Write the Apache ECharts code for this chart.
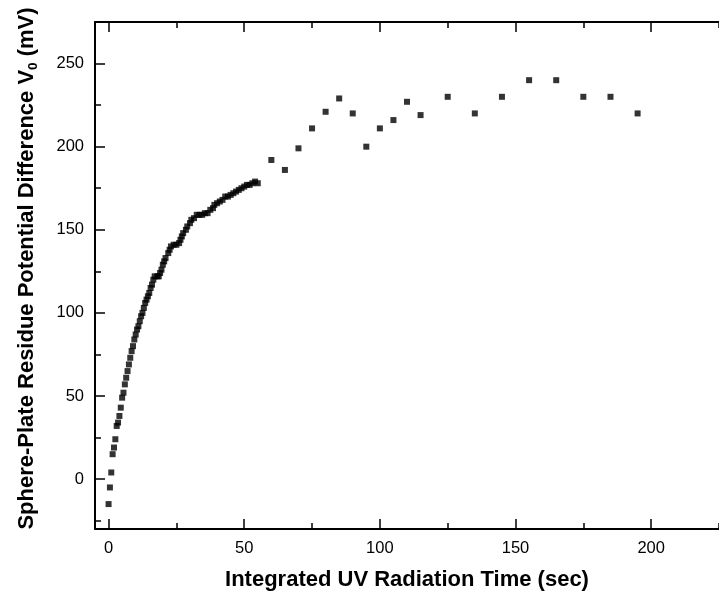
<!DOCTYPE html>
<html><head><meta charset="utf-8">
<script src="https://cdn.jsdelivr.net/npm/echarts@6/dist/echarts.min.js"></script>
<style>html,body{margin:0;padding:0;background:#fff}#c{width:719px;height:604px}</style>
</head><body><div id="c"></div>
<script>
// Integrated UV radiation time (sec)
const timeSec = [
  0, 0.5, 1, 1.5, 2, 2.5, 3, 3.5, 4, 4.5, 5, 5.5, 6, 6.5, 7, 7.5, 8, 8.5, 9, 9.5,
  10, 10.5, 11, 11.5, 12, 12.5, 13, 13.5, 14, 14.5, 15, 15.5, 16, 16.5, 17, 18, 18.5, 19, 19.5, 20,
  20.5, 21, 22, 22.5, 23, 24, 25, 26, 26.5, 27, 27.5, 28.5, 29, 30, 30.5, 31.5, 32.5, 33.5, 34.5, 35.5,
  36.5, 37.5, 38.5, 39, 40, 41, 42, 43, 44, 45, 46, 47, 48, 49, 50, 51, 52, 53, 54, 55,
  60, 65, 70, 75, 80, 85, 90, 95, 100, 105, 110, 115, 125, 135, 145, 155, 165, 175, 185, 195
];
// Sphere-plate residue potential difference V0 (mV)
const voltageMv = [
  -15, -5, 4, 15, 19, 24, 32, 34, 38, 43, 49, 52, 57, 61, 65, 69, 73, 77, 80, 84,
  87, 90, 92, 95, 98, 100, 103, 106, 108, 110, 112, 115, 117, 120, 122, 122, 122, 124, 126, 129,
  131, 133, 136, 138, 140, 141, 141, 142, 144, 146, 148, 150, 152, 154, 156, 157, 159, 159, 159, 160,
  160, 162, 163, 165, 166, 167, 168, 170, 170, 171, 172, 173, 174, 175, 176, 177, 177, 178, 179, 178,
  192, 186, 199, 211, 221, 229, 220, 200, 211, 216, 227, 219, 230, 220, 230, 240, 240, 230, 230, 220
];
const xMajorTicks = [0, 50, 100, 150, 200];
const xMinorTicks = [25, 75, 125, 175, 225];
const yMajorTicks = [0, 50, 100, 150, 200, 250];
const yMinorTicks = [-25, 25, 75, 125, 175, 225];

const FONT = 'Liberation Sans, Arial, sans-serif';
const X_MIN = -5, X_MAX = 225, Y_MIN = -30, Y_MAX = 275;

function xAxisDef(position, ticks, len, withLine, withLabels) {
  return {
    type: 'value', position: position, min: X_MIN, max: X_MAX,
    axisLine: { show: withLine, onZero: false, lineStyle: { color: '#000', width: 2 } },
    axisTick: { show: true, inside: true, length: len, customValues: ticks, lineStyle: { color: '#000', width: 1.5 } },
    axisLabel: withLabels ? { show: true, customValues: xMajorTicks, color: '#000', fontSize: 16.5, fontFamily: FONT, margin: 11 } : { show: false },
    splitLine: { show: false }
  };
}
function yAxisDef(position, ticks, len, withLine, withLabels) {
  return {
    type: 'value', position: position, min: Y_MIN, max: Y_MAX,
    axisLine: { show: withLine, onZero: false, lineStyle: { color: '#000', width: 2 } },
    axisTick: { show: true, inside: true, length: len, customValues: ticks, lineStyle: { color: '#000', width: 1.5 } },
    axisLabel: withLabels ? { show: true, customValues: yMajorTicks, color: '#000', fontSize: 16.5, fontFamily: FONT, margin: 11 } : { show: false },
    splitLine: { show: false }
  };
}

const xMain = xAxisDef('bottom', xMajorTicks, 10, true, true);
xMain.name = 'Integrated UV Radiation Time (sec)';
xMain.nameLocation = 'middle';
xMain.nameGap = 40;
xMain.nameTextStyle = { color: '#000', fontSize: 22, fontWeight: 'bold', fontFamily: FONT };

const yMain = yAxisDef('left', yMajorTicks, 10, true, true);
yMain.name = '{a|Sphere-Plate Residue Potential Difference V}{s|0}{a| (mV)}';
yMain.nameLocation = 'middle';
yMain.nameGap = 55;
yMain.nameTextStyle = {
  color: '#000', fontSize: 22, fontWeight: 'bold', fontFamily: FONT,
  padding: [0, 0, 0, 14],
  rich: {
    a: { color: '#000', fontSize: 22, fontWeight: 'bold', fontFamily: FONT, lineHeight: 27 },
    s: { color: '#000', fontSize: 13.5, fontWeight: 'bold', fontFamily: FONT, lineHeight: 13, verticalAlign: 'bottom' }
  }
};

const points = timeSec.map((t, i) => [t, voltageMv[i]]);

const chart = echarts.init(document.getElementById('c'), null, { renderer: 'canvas' });
chart.setOption({
  animation: false,
  backgroundColor: '#fff',
  grid: { left: 95, top: 22, width: 629, height: 507, containLabel: false },
  xAxis: [
    xMain,
    xAxisDef('bottom', xMinorTicks, 6, false, false),
    xAxisDef('top', xMajorTicks, 10, true, false),
    xAxisDef('top', xMinorTicks, 6, false, false)
  ],
  yAxis: [
    yMain,
    yAxisDef('left', yMinorTicks, 6, false, false)
  ],
  series: [{
    type: 'scatter', xAxisIndex: 0, yAxisIndex: 0,
    symbol: 'rect', symbolSize: 6,
    itemStyle: { color: '#000' },
    data: points
  }]
});
</script>
</body></html>
